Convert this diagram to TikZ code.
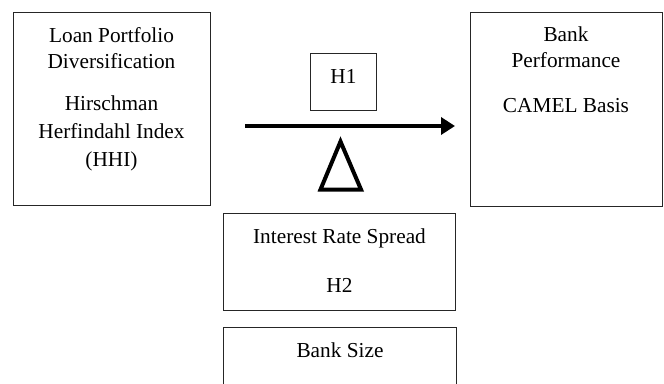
\documentclass[tikz,border=0pt]{standalone}
\usepackage{fontspec}
\setmainfont{Liberation Serif}
\usetikzlibrary{arrows.meta}
\begin{document}
\begin{tikzpicture}[x=1pt,y=-1pt,
  box/.style={draw=black!85,line width=0.9pt,rectangle,inner sep=0pt},
  txt/.style={anchor=base,inner sep=0pt,font=\fontsize{21.3}{25}\selectfont},
  bigarrow/.style={line width=4pt,-{Triangle[length=14pt,width=17pt]}},
  fulcrum/.style={line width=4pt,line join=miter}]
\useasboundingbox (0,0) rectangle (664,383);
\clip (0,0) rectangle (664,383);

% variable boxes
\node[box,minimum width=197pt,minimum height=193pt] (lpd) at (111.5,109) {};
\node[box,minimum width=192pt,minimum height=194pt] (perf) at (566,109) {};
\node[box,minimum width=66pt,minimum height=57pt] (h1) at (343.5,81.5) {};
\node[box,minimum width=232pt,minimum height=97pt] (irs) at (339.5,261.5) {};
\node[box,minimum width=233pt,minimum height=100pt] (size) at (340,377) {};

% box texts
\node[txt] (t1) at (111.5,42) {Loan Portfolio};
\node[txt] (t2) at (111.5,68) {Diversification};
\node[txt] (t3) at (111.5,110) {Hirschman};
\node[txt] (t4) at (111.5,138) {Herfindahl Index};
\node[txt] (t5) at (111.5,166) {(HHI)};
\node[txt] (p1) at (566,41.5) {Bank};
\node[txt] (p2) at (566,67.5) {Performance};
\node[txt] (p3) at (566,112) {CAMEL Basis};
\node[txt] (hh1) at (343.5,83) {H1};
\node[txt] (i1) at (339.5,243) {Interest Rate Spread};
\node[txt] (i2) at (339.5,292) {H2};
\node[txt] (s1) at (340,357) {Bank Size};

% main relationship arrow and moderating fulcrum
\coordinate (as) at (245,126);
\coordinate (ae) at (455,126);
\draw[bigarrow] (as) -- (ae);
\coordinate (fa) at (340.5,141.5);
\coordinate (fl) at (320.5,189.5);
\coordinate (fr) at (361,189.5);
\draw[fulcrum] (fa) -- (fl) -- (fr) -- cycle;
\end{tikzpicture}
\end{document}
